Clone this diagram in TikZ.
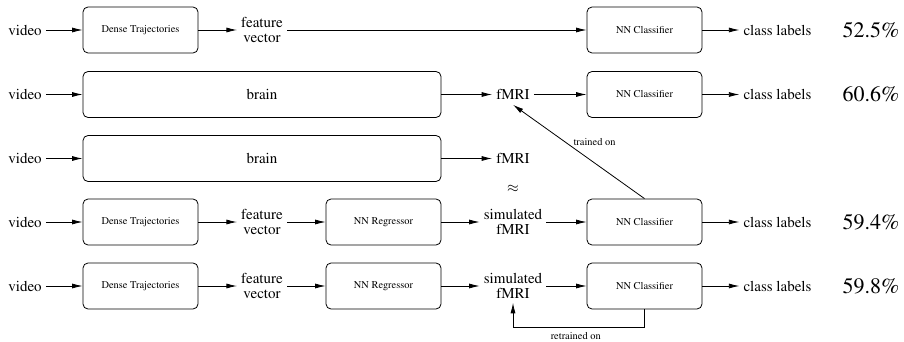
\documentclass[tikz,border=0pt]{standalone}
\usepackage[T1]{fontenc}
\usepackage{mathptmx}
\usetikzlibrary{arrows.meta}
\begin{document}
\begin{tikzpicture}[x=1pt,y=-1pt,
  box/.style={draw,rounded corners=5pt,minimum height=46pt,inner sep=0pt,line width=0.8pt,font=\fontsize{10.4}{12}\selectfont},
  bigbox/.style={box,font=\fontsize{15}{15}\selectfont},
  txt/.style={inner sep=4pt,align=center,font=\fontsize{15}{15}\selectfont},
  pct/.style={inner sep=0pt,font=\fontsize{22}{22}\selectfont},
  lbl/.style={inner sep=1pt,font=\fontsize{10.4}{12}\selectfont},
  arr/.style={-{Latex[length=10.5pt,width=5pt]},line width=0.8pt},
]
\useasboundingbox (0,0) rectangle (904,342);

% Row 1
\node[txt] (v1) at (25,30) {video};
\node[box,minimum width=115pt] (dt1) at (140.5,30) {Dense Trajectories};
\node[txt] (fv1) at (262,30) {feature\\vector};
\node[box,minimum width=115pt] (nc1) at (644.5,30) {NN Classifier};
\node[txt] (cl1) at (777.5,30) {class labels};
\node[pct] (p1) at (871,30) {52.5\%};
\draw[arr] (v1) -- (dt1);
\draw[arr] (dt1) -- (fv1);
\draw[arr] (fv1) -- (nc1);
\draw[arr] (nc1) -- (cl1);

% Row 2
\node[txt] (v2) at (25,94.5) {video};
\node[bigbox,minimum width=358pt] (br2) at (262,94.5) {brain};
\node[txt] (f2) at (513,94.5) {fMRI};
\node[box,minimum width=115pt] (nc2) at (644.5,94.5) {NN Classifier};
\node[txt] (cl2) at (777.5,94.5) {class labels};
\node[pct] (p2) at (871,94.5) {60.6\%};
\draw[arr] (v2) -- (br2);
\draw[arr] (br2) -- (f2);
\draw[arr] (f2) -- (nc2);
\draw[arr] (nc2) -- (cl2);

% Row 3
\node[txt] (v3) at (25,158.5) {video};
\node[bigbox,minimum width=358pt] (br3) at (262,158.5) {brain};
\node[txt] (f3) at (513,158.5) {fMRI};
\node[txt] (ap) at (513,189) {$\approx$};
\draw[arr] (v3) -- (br3);
\draw[arr] (br3) -- (f3);

% Row 4
\node[txt] (v4) at (25,222) {video};
\node[box,minimum width=115pt] (dt4) at (140.5,222) {Dense Trajectories};
\node[txt] (fv4) at (262,222) {feature\\vector};
\node[box,minimum width=115pt] (nr4) at (383.5,222) {NN Regressor};
\node[txt] (sf4) at (513,222) {simulated\\fMRI};
\node[box,minimum width=115pt] (nc4) at (644.5,222) {NN Classifier};
\node[txt] (cl4) at (777.5,222) {class labels};
\node[pct] (p4) at (871,222) {59.4\%};
\draw[arr] (v4) -- (dt4);
\draw[arr] (dt4) -- (fv4);
\draw[arr] (fv4) -- (nr4);
\draw[arr] (nr4) -- (sf4);
\draw[arr] (sf4) -- (nc4);
\draw[arr] (nc4) -- (cl4);

% Row 5
\node[txt] (v5) at (25,286) {video};
\node[box,minimum width=115pt] (dt5) at (140.5,286) {Dense Trajectories};
\node[txt] (fv5) at (262,286) {feature\\vector};
\node[box,minimum width=115pt] (nr5) at (383.5,286) {NN Regressor};
\node[txt] (sf5) at (513,286) {simulated\\fMRI};
\node[box,minimum width=115pt] (nc5) at (644.5,286) {NN Classifier};
\node[txt] (cl5) at (777.5,286) {class labels};
\node[pct] (p5) at (871,286) {59.8\%};
\draw[arr] (v5) -- (dt5);
\draw[arr] (dt5) -- (fv5);
\draw[arr] (fv5) -- (nr5);
\draw[arr] (nr5) -- (sf5);
\draw[arr] (sf5) -- (nc5);
\draw[arr] (nc5) -- (cl5);

% feedback connectors
\draw[arr] (nc4.north) -- node[lbl,pos=0.55,anchor=south west] {trained on} ([yshift=-1pt]f2.south);
\coordinate (rb) at (644.5,327);
\coordinate (lb) at (513,327);
\draw[arr] (nc5.south) -- (rb) -- node[lbl,below=0pt,xshift=-3pt,yshift=-4pt] {retrained on} (lb) -- (sf5.south);
\end{tikzpicture}
\end{document}
